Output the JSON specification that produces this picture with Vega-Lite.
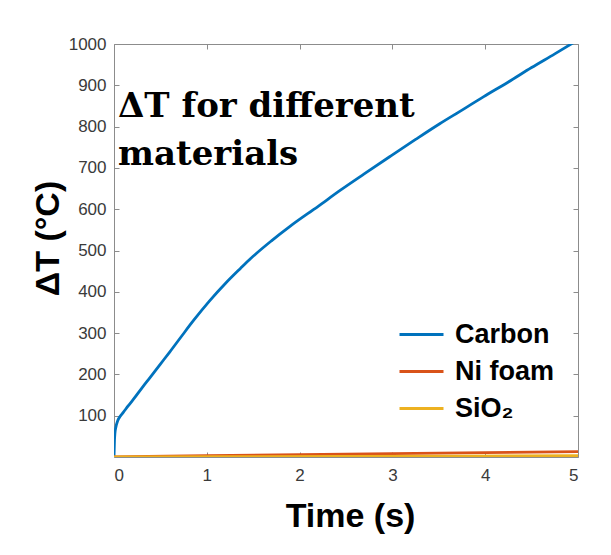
{
  "$schema": "https://vega.github.io/schema/vega-lite/v6.json",
  "width": 464,
  "height": 413,
  "autosize": {"type": "none"},
  "padding": {"left": 114, "top": 44, "right": 33, "bottom": 98},
  "background": "white",
  "config": {
    "view": {"stroke": "#8c8c8c", "strokeWidth": 1},
    "axis": {
      "domain": false,
      "grid": false,
      "tickColor": "#8c8c8c",
      "tickSize": -5,
      "labelFont": "Liberation Sans",
      "labelFontSize": 17,
      "labelColor": "#3a3a3a"
    }
  },
  "resolve": {"axis": {"x": "independent", "y": "independent"}},
  "layer": [
    {
      "data": {
        "values": [
          {"material": "Carbon", "t": 0, "v": 0},
          {"material": "Carbon", "t": 0.005, "v": 40},
          {"material": "Carbon", "t": 0.01, "v": 58},
          {"material": "Carbon", "t": 0.02, "v": 72},
          {"material": "Carbon", "t": 0.04, "v": 88},
          {"material": "Carbon", "t": 0.065, "v": 98},
          {"material": "Carbon", "t": 0.1, "v": 108},
          {"material": "Carbon", "t": 0.15, "v": 123},
          {"material": "Carbon", "t": 0.21, "v": 140},
          {"material": "Carbon", "t": 0.3, "v": 167},
          {"material": "Carbon", "t": 0.39, "v": 193},
          {"material": "Carbon", "t": 0.5, "v": 225},
          {"material": "Carbon", "t": 0.6, "v": 254},
          {"material": "Carbon", "t": 0.73, "v": 293},
          {"material": "Carbon", "t": 0.855, "v": 330},
          {"material": "Carbon", "t": 1.03, "v": 378},
          {"material": "Carbon", "t": 1.2, "v": 420},
          {"material": "Carbon", "t": 1.36, "v": 456},
          {"material": "Carbon", "t": 1.47, "v": 480},
          {"material": "Carbon", "t": 1.7, "v": 524},
          {"material": "Carbon", "t": 1.9, "v": 559},
          {"material": "Carbon", "t": 2.2, "v": 607},
          {"material": "Carbon", "t": 2.44, "v": 646},
          {"material": "Carbon", "t": 2.7, "v": 686},
          {"material": "Carbon", "t": 2.97, "v": 727},
          {"material": "Carbon", "t": 3.25, "v": 769},
          {"material": "Carbon", "t": 3.51, "v": 807},
          {"material": "Carbon", "t": 3.75, "v": 840},
          {"material": "Carbon", "t": 3.98, "v": 872},
          {"material": "Carbon", "t": 4.25, "v": 908},
          {"material": "Carbon", "t": 4.5, "v": 943},
          {"material": "Carbon", "t": 4.75, "v": 976},
          {"material": "Carbon", "t": 5, "v": 1010},
          {"material": "Ni foam", "t": 0, "v": 0},
          {"material": "Ni foam", "t": 1, "v": 3},
          {"material": "Ni foam", "t": 2, "v": 5.5},
          {"material": "Ni foam", "t": 3, "v": 8},
          {"material": "Ni foam", "t": 4, "v": 10.5},
          {"material": "Ni foam", "t": 5, "v": 13},
          {"material": "SiO₂", "t": 0, "v": 0},
          {"material": "SiO₂", "t": 2.5, "v": 1.5},
          {"material": "SiO₂", "t": 5, "v": 3}
        ]
      },
      "mark": {"type": "line", "strokeWidth": 2.8, "clip": true, "interpolate": "monotone"},
      "encoding": {
        "x": {
          "field": "t",
          "type": "quantitative",
          "scale": {"domain": [0, 5], "nice": false},
          "axis": {
            "orient": "bottom",
            "values": [0, 1, 2, 3, 4, 5],
            "labelPadding": 15,
            "title": "Time (s)",
            "titleFont": "Liberation Sans",
            "titleFontSize": 34,
            "titleFontWeight": "bold",
            "titleColor": "black",
            "titleX": 236,
            "titleY": 69,
            "titleAlign": "center",
            "titleBaseline": "alphabetic"
          }
        },
        "y": {
          "field": "v",
          "type": "quantitative",
          "scale": {"domain": [0, 1000], "nice": false},
          "axis": {
            "orient": "left",
            "values": [100, 200, 300, 400, 500, 600, 700, 800, 900, 1000],
            "format": "d",
            "labelPadding": 13,
            "title": "ΔT (°C)",
            "titleFont": "Liberation Sans",
            "titleFontSize": 34,
            "titleFontWeight": "bold",
            "titleColor": "black",
            "titleAngle": -90,
            "titleX": -56,
            "titleY": 194,
            "titleAlign": "center",
            "titleBaseline": "alphabetic"
          }
        },
        "color": {
          "field": "material",
          "type": "nominal",
          "scale": {"domain": ["Carbon", "Ni foam", "SiO₂"], "range": ["#0072BD", "#D95319", "#EDB120"]},
          "legend": {
            "orient": "none",
            "legendX": 284,
            "legendY": 267,
            "title": null,
            "padding": 0,
            "symbolType": "stroke",
            "symbolSize": 1936,
            "symbolStrokeWidth": 3,
            "labelFont": "Liberation Sans",
            "labelFontSize": 27,
            "labelFontWeight": "bold",
            "labelColor": "black",
            "labelOffset": 10,
            "rowPadding": -11
          }
        }
      }
    },
    {
      "data": {"values": [{}]},
      "mark": {
        "type": "text",
        "text": ["ΔT for different", "materials"],
        "font": "DejaVu Serif",
        "fontWeight": "bold",
        "fontSize": 34,
        "lineHeight": 48,
        "align": "left",
        "baseline": "alphabetic",
        "color": "black"
      },
      "encoding": {
        "x": {
          "datum": 0.043,
          "type": "quantitative",
          "scale": {"domain": [0, 5], "nice": false},
          "axis": {"orient": "top", "values": [0, 1, 2, 3, 4, 5], "labels": false, "title": null}
        },
        "y": {
          "datum": 823,
          "type": "quantitative",
          "scale": {"domain": [0, 1000], "nice": false},
          "axis": {"orient": "right", "values": [100, 200, 300, 400, 500, 600, 700, 800, 900, 1000], "labels": false, "title": null}
        }
      }
    }
  ]
}
